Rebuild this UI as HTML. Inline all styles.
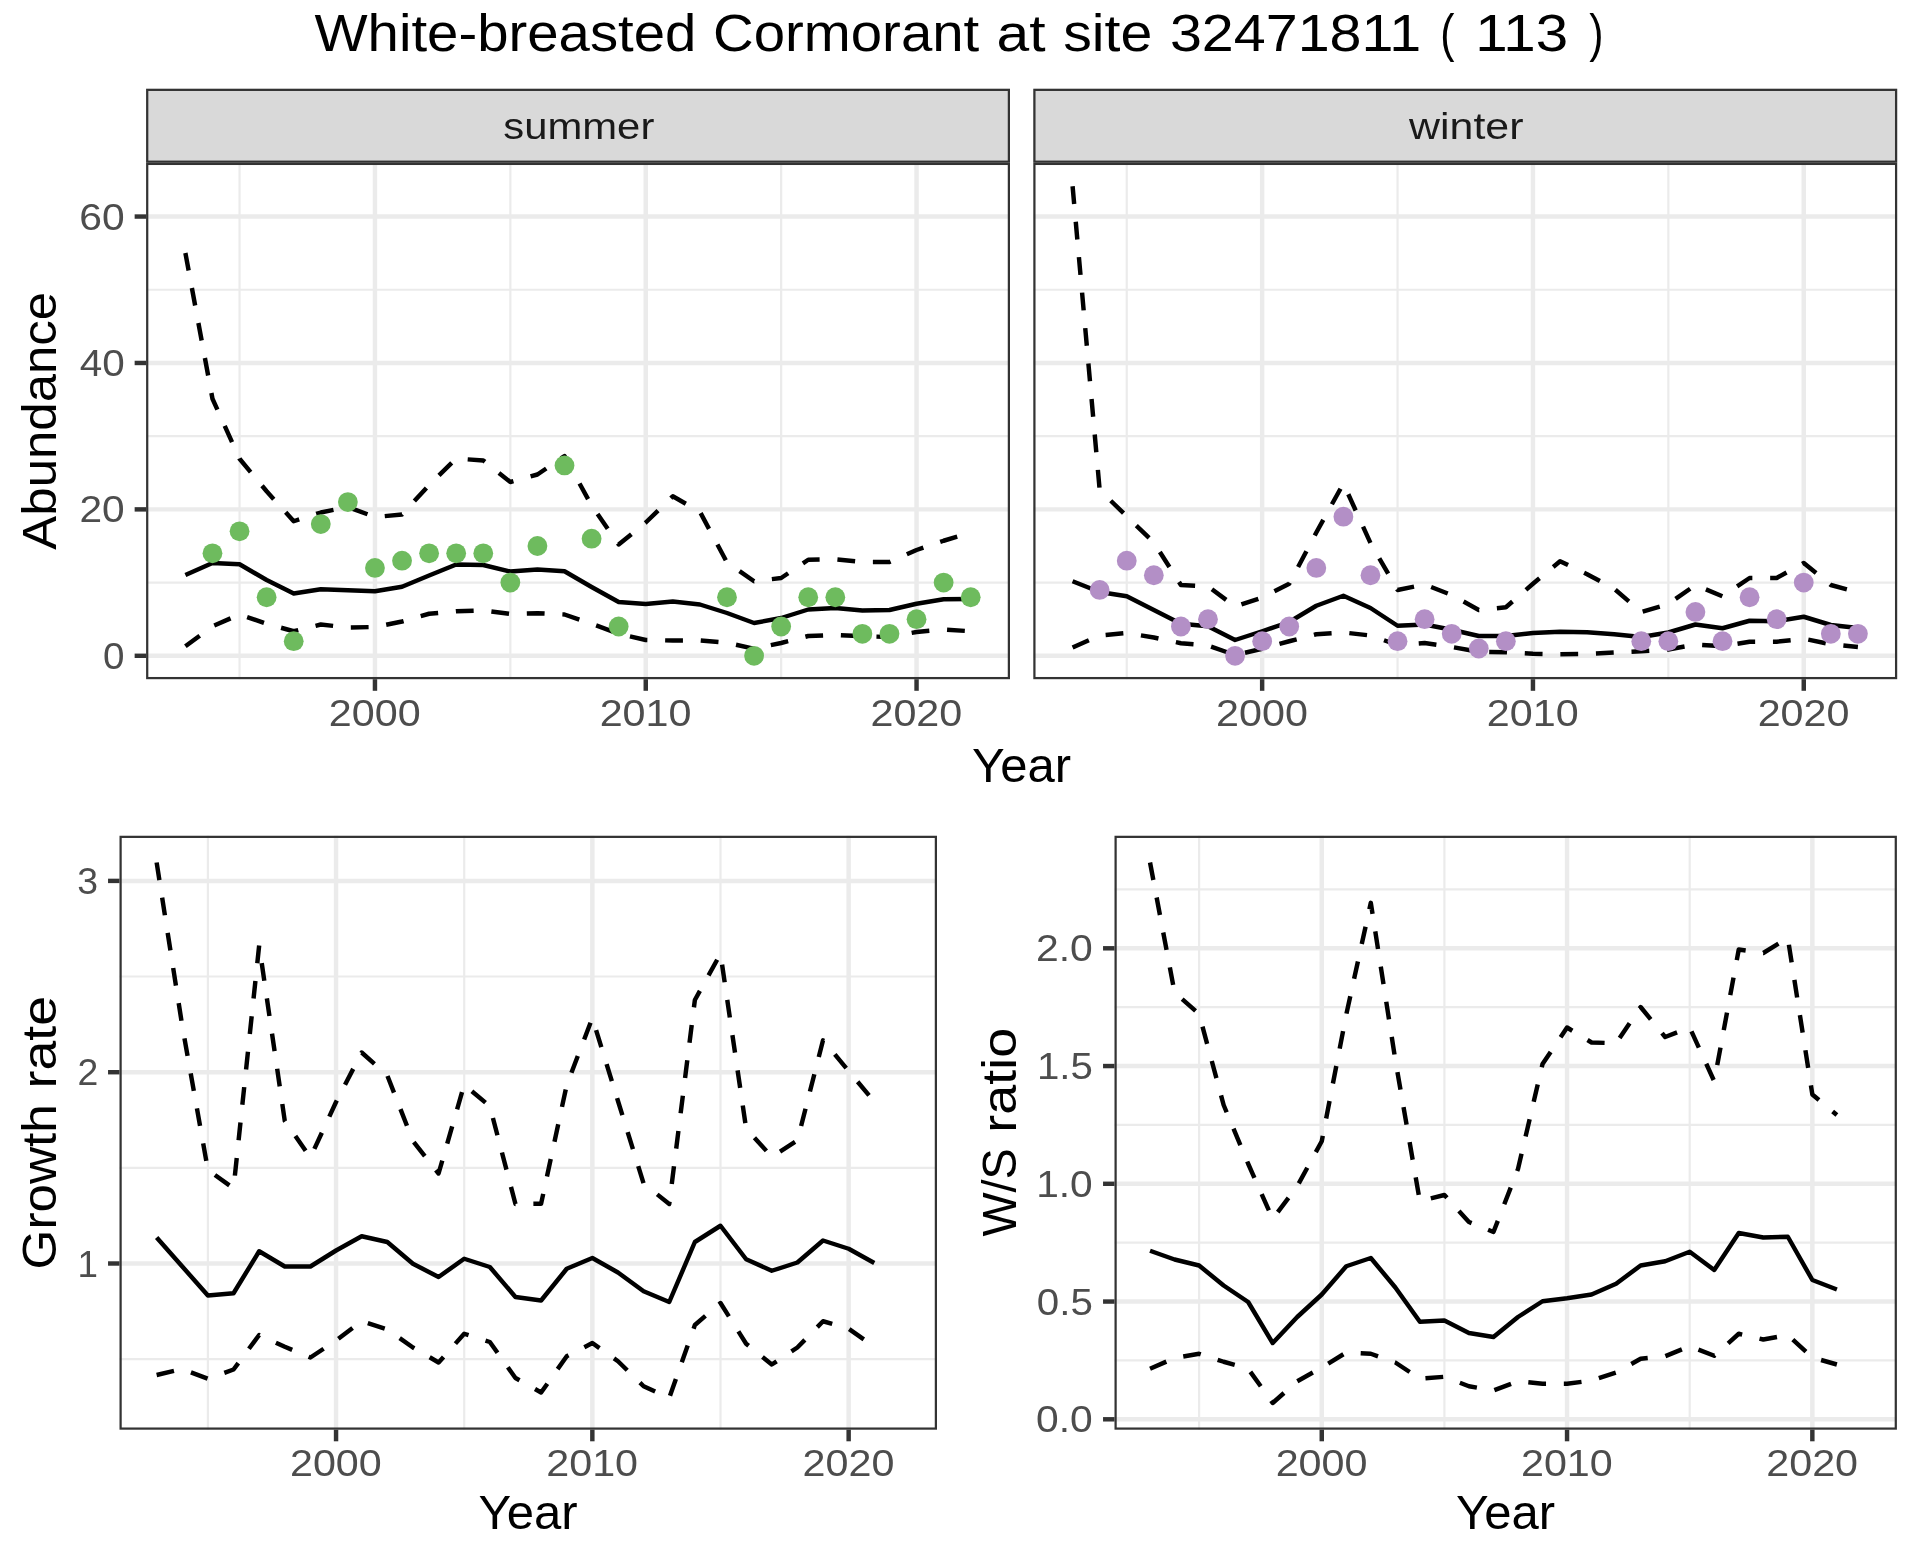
<!DOCTYPE html>
<html><head><meta charset="utf-8"><title>White-breasted Cormorant at site 32471811</title>
<style>html,body{margin:0;padding:0;background:#fff}svg{display:block;will-change:transform}text{font-family:"Liberation Sans",sans-serif}</style></head><body>
<svg width="1920" height="1560" viewBox="0 0 1920 1560">
<rect width="1920" height="1560" fill="#fff"/>
<rect x="146.10" y="162.80" width="863.90" height="516.40" fill="#fff"/>
<line x1="146.10" x2="1010.00" y1="582.59" y2="582.59" stroke="#EBEBEB" stroke-width="2.20"/>
<line x1="146.10" x2="1010.00" y1="436.18" y2="436.18" stroke="#EBEBEB" stroke-width="2.20"/>
<line x1="146.10" x2="1010.00" y1="289.76" y2="289.76" stroke="#EBEBEB" stroke-width="2.20"/>
<line x1="239.55" x2="239.55" y1="162.80" y2="679.20" stroke="#EBEBEB" stroke-width="2.20"/>
<line x1="510.35" x2="510.35" y1="162.80" y2="679.20" stroke="#EBEBEB" stroke-width="2.20"/>
<line x1="781.15" x2="781.15" y1="162.80" y2="679.20" stroke="#EBEBEB" stroke-width="2.20"/>
<line x1="146.10" x2="1010.00" y1="655.80" y2="655.80" stroke="#EBEBEB" stroke-width="4.45"/>
<line x1="146.10" x2="1010.00" y1="509.38" y2="509.38" stroke="#EBEBEB" stroke-width="4.45"/>
<line x1="146.10" x2="1010.00" y1="362.97" y2="362.97" stroke="#EBEBEB" stroke-width="4.45"/>
<line x1="146.10" x2="1010.00" y1="216.55" y2="216.55" stroke="#EBEBEB" stroke-width="4.45"/>
<line x1="374.95" x2="374.95" y1="162.80" y2="679.20" stroke="#EBEBEB" stroke-width="4.45"/>
<line x1="645.75" x2="645.75" y1="162.80" y2="679.20" stroke="#EBEBEB" stroke-width="4.45"/>
<line x1="916.55" x2="916.55" y1="162.80" y2="679.20" stroke="#EBEBEB" stroke-width="4.45"/>
<polyline points="185.39,575.00 212.47,563.00 239.55,564.25 266.63,580.00 293.71,593.50 320.79,589.25 347.87,590.25 374.95,591.25 402.03,586.75 429.11,575.50 456.19,564.50 483.27,565.00 510.35,571.50 537.43,569.50 564.51,571.25 591.59,587.00 618.67,602.00 645.75,604.00 672.83,601.50 699.91,604.50 726.99,613.00 754.07,623.00 781.15,618.00 808.23,609.50 835.31,608.00 862.39,610.50 889.47,610.00 916.55,603.75 943.63,599.25 970.71,599.00" fill="none" stroke="#000" stroke-width="4.45" stroke-linejoin="round" stroke-linecap="butt"/>
<polyline points="185.39,253.00 212.47,398.75 239.55,458.75 266.63,491.25 293.71,521.25 320.79,512.50 347.87,507.00 374.95,517.00 402.03,514.50 429.11,485.00 456.19,458.50 483.27,460.50 510.35,482.00 537.43,474.50 564.51,456.00 591.59,505.50 618.67,544.50 645.75,522.50 672.83,496.25 699.91,511.75 726.99,562.50 754.07,581.25 781.15,578.00 808.23,559.75 835.31,559.25 862.39,562.00 889.47,562.00 916.55,550.00 943.63,540.75 970.71,532.75" fill="none" stroke="#000" stroke-width="4.45" stroke-linejoin="round" stroke-linecap="butt" stroke-dasharray="17.8 17.8"/>
<polyline points="185.39,646.25 212.47,626.25 239.55,614.50 266.63,623.75 293.71,631.25 320.79,624.50 347.87,627.50 374.95,627.00 402.03,621.50 429.11,613.75 456.19,611.25 483.27,610.50 510.35,614.00 537.43,613.25 564.51,614.50 591.59,623.75 618.67,633.75 645.75,640.00 672.83,640.50 699.91,640.50 726.99,642.75 754.07,648.75 781.15,643.00 808.23,636.00 835.31,635.00 862.39,636.25 889.47,637.00 916.55,632.00 943.63,629.50 970.71,631.25" fill="none" stroke="#000" stroke-width="4.45" stroke-linejoin="round" stroke-linecap="butt" stroke-dasharray="17.8 17.8"/>
<circle cx="212.47" cy="553.31" r="9.9" fill="#6EBB5E"/>
<circle cx="239.55" cy="531.35" r="9.9" fill="#6EBB5E"/>
<circle cx="266.63" cy="597.23" r="9.9" fill="#6EBB5E"/>
<circle cx="293.71" cy="641.16" r="9.9" fill="#6EBB5E"/>
<circle cx="320.79" cy="524.03" r="9.9" fill="#6EBB5E"/>
<circle cx="347.87" cy="502.06" r="9.9" fill="#6EBB5E"/>
<circle cx="374.95" cy="567.95" r="9.9" fill="#6EBB5E"/>
<circle cx="402.03" cy="560.63" r="9.9" fill="#6EBB5E"/>
<circle cx="429.11" cy="553.31" r="9.9" fill="#6EBB5E"/>
<circle cx="456.19" cy="553.31" r="9.9" fill="#6EBB5E"/>
<circle cx="483.27" cy="553.31" r="9.9" fill="#6EBB5E"/>
<circle cx="510.35" cy="582.59" r="9.9" fill="#6EBB5E"/>
<circle cx="537.43" cy="545.99" r="9.9" fill="#6EBB5E"/>
<circle cx="564.51" cy="465.46" r="9.9" fill="#6EBB5E"/>
<circle cx="591.59" cy="538.67" r="9.9" fill="#6EBB5E"/>
<circle cx="618.67" cy="626.52" r="9.9" fill="#6EBB5E"/>
<circle cx="726.99" cy="597.23" r="9.9" fill="#6EBB5E"/>
<circle cx="754.07" cy="655.80" r="9.9" fill="#6EBB5E"/>
<circle cx="781.15" cy="626.52" r="9.9" fill="#6EBB5E"/>
<circle cx="808.23" cy="597.23" r="9.9" fill="#6EBB5E"/>
<circle cx="835.31" cy="597.23" r="9.9" fill="#6EBB5E"/>
<circle cx="862.39" cy="633.84" r="9.9" fill="#6EBB5E"/>
<circle cx="889.47" cy="633.84" r="9.9" fill="#6EBB5E"/>
<circle cx="916.55" cy="619.20" r="9.9" fill="#6EBB5E"/>
<circle cx="943.63" cy="582.59" r="9.9" fill="#6EBB5E"/>
<circle cx="970.71" cy="597.23" r="9.9" fill="#6EBB5E"/>
<rect x="147.21" y="163.91" width="861.67" height="514.18" fill="none" stroke="#333333" stroke-width="2.23"/>
<rect x="146.10" y="88.75" width="863.90" height="74.05" fill="#D9D9D9"/>
<rect x="147.21" y="89.86" width="861.67" height="71.83" fill="none" stroke="#333333" stroke-width="2.23"/>
<text transform="translate(503.23,138.60) scale(1.1200,1)" font-size="37.36" fill="#1A1A1A">summer</text>
<line x1="374.95" x2="374.95" y1="679.20" y2="690.80" stroke="#333333" stroke-width="4.45"/>
<line x1="645.75" x2="645.75" y1="679.20" y2="690.80" stroke="#333333" stroke-width="4.45"/>
<line x1="916.55" x2="916.55" y1="679.20" y2="690.80" stroke="#333333" stroke-width="4.45"/>
<text transform="translate(328.85,725.90) scale(1.1049,1)" font-size="37.36" fill="#4D4D4D">2000</text>
<text transform="translate(599.65,725.90) scale(1.1049,1)" font-size="37.36" fill="#4D4D4D">2010</text>
<text transform="translate(870.45,725.90) scale(1.1049,1)" font-size="37.36" fill="#4D4D4D">2020</text>
<rect x="1033.30" y="162.80" width="863.90" height="516.40" fill="#fff"/>
<line x1="1033.30" x2="1897.20" y1="582.59" y2="582.59" stroke="#EBEBEB" stroke-width="2.20"/>
<line x1="1033.30" x2="1897.20" y1="436.18" y2="436.18" stroke="#EBEBEB" stroke-width="2.20"/>
<line x1="1033.30" x2="1897.20" y1="289.76" y2="289.76" stroke="#EBEBEB" stroke-width="2.20"/>
<line x1="1126.75" x2="1126.75" y1="162.80" y2="679.20" stroke="#EBEBEB" stroke-width="2.20"/>
<line x1="1397.55" x2="1397.55" y1="162.80" y2="679.20" stroke="#EBEBEB" stroke-width="2.20"/>
<line x1="1668.35" x2="1668.35" y1="162.80" y2="679.20" stroke="#EBEBEB" stroke-width="2.20"/>
<line x1="1033.30" x2="1897.20" y1="655.80" y2="655.80" stroke="#EBEBEB" stroke-width="4.45"/>
<line x1="1033.30" x2="1897.20" y1="509.38" y2="509.38" stroke="#EBEBEB" stroke-width="4.45"/>
<line x1="1033.30" x2="1897.20" y1="362.97" y2="362.97" stroke="#EBEBEB" stroke-width="4.45"/>
<line x1="1033.30" x2="1897.20" y1="216.55" y2="216.55" stroke="#EBEBEB" stroke-width="4.45"/>
<line x1="1262.15" x2="1262.15" y1="162.80" y2="679.20" stroke="#EBEBEB" stroke-width="4.45"/>
<line x1="1532.95" x2="1532.95" y1="162.80" y2="679.20" stroke="#EBEBEB" stroke-width="4.45"/>
<line x1="1803.75" x2="1803.75" y1="162.80" y2="679.20" stroke="#EBEBEB" stroke-width="4.45"/>
<polyline points="1072.59,581.25 1099.67,592.00 1126.75,596.25 1153.83,610.00 1180.91,623.75 1207.99,626.25 1235.07,640.00 1262.15,631.25 1289.23,622.00 1316.31,605.75 1343.39,595.75 1370.47,608.00 1397.55,625.75 1424.63,624.50 1451.71,629.75 1478.79,636.00 1505.87,636.00 1532.95,633.00 1560.03,631.75 1587.11,632.25 1614.19,634.25 1641.27,637.00 1668.35,632.50 1695.43,624.50 1722.51,628.25 1749.59,620.75 1776.67,621.25 1803.75,616.75 1830.83,625.00 1857.91,628.00" fill="none" stroke="#000" stroke-width="4.45" stroke-linejoin="round" stroke-linecap="butt"/>
<polyline points="1072.59,186.25 1099.67,490.00 1126.75,516.25 1153.83,542.50 1180.91,585.00 1207.99,586.25 1235.07,606.50 1262.15,597.50 1289.23,583.75 1316.31,532.50 1343.39,483.50 1370.47,543.00 1397.55,590.00 1424.63,584.50 1451.71,595.00 1478.79,610.00 1505.87,607.25 1532.95,583.75 1560.03,561.25 1587.11,574.25 1614.19,588.75 1641.27,612.00 1668.35,604.00 1695.43,585.00 1722.51,596.25 1749.59,578.00 1776.67,578.00 1803.75,563.00 1830.83,585.00 1857.91,592.50" fill="none" stroke="#000" stroke-width="4.45" stroke-linejoin="round" stroke-linecap="butt" stroke-dasharray="17.8 17.8"/>
<polyline points="1072.59,647.50 1099.67,635.50 1126.75,633.00 1153.83,637.50 1180.91,643.25 1207.99,645.50 1235.07,655.00 1262.15,648.75 1289.23,641.25 1316.31,634.25 1343.39,632.50 1370.47,635.50 1397.55,645.00 1424.63,643.00 1451.71,647.00 1478.79,651.75 1505.87,652.25 1532.95,653.75 1560.03,654.25 1587.11,654.00 1614.19,652.50 1641.27,651.25 1668.35,649.50 1695.43,644.50 1722.51,646.25 1749.59,641.75 1776.67,641.75 1803.75,638.75 1830.83,644.25 1857.91,647.00" fill="none" stroke="#000" stroke-width="4.45" stroke-linejoin="round" stroke-linecap="butt" stroke-dasharray="17.8 17.8"/>
<circle cx="1099.67" cy="589.91" r="9.9" fill="#B38FC6"/>
<circle cx="1126.75" cy="560.63" r="9.9" fill="#B38FC6"/>
<circle cx="1153.83" cy="575.27" r="9.9" fill="#B38FC6"/>
<circle cx="1180.91" cy="626.52" r="9.9" fill="#B38FC6"/>
<circle cx="1207.99" cy="619.20" r="9.9" fill="#B38FC6"/>
<circle cx="1235.07" cy="655.80" r="9.9" fill="#B38FC6"/>
<circle cx="1262.15" cy="641.16" r="9.9" fill="#B38FC6"/>
<circle cx="1289.23" cy="626.52" r="9.9" fill="#B38FC6"/>
<circle cx="1316.31" cy="567.95" r="9.9" fill="#B38FC6"/>
<circle cx="1343.39" cy="516.70" r="9.9" fill="#B38FC6"/>
<circle cx="1370.47" cy="575.27" r="9.9" fill="#B38FC6"/>
<circle cx="1397.55" cy="641.16" r="9.9" fill="#B38FC6"/>
<circle cx="1424.63" cy="619.20" r="9.9" fill="#B38FC6"/>
<circle cx="1451.71" cy="633.84" r="9.9" fill="#B38FC6"/>
<circle cx="1478.79" cy="648.48" r="9.9" fill="#B38FC6"/>
<circle cx="1505.87" cy="641.16" r="9.9" fill="#B38FC6"/>
<circle cx="1641.27" cy="641.16" r="9.9" fill="#B38FC6"/>
<circle cx="1668.35" cy="641.16" r="9.9" fill="#B38FC6"/>
<circle cx="1695.43" cy="611.88" r="9.9" fill="#B38FC6"/>
<circle cx="1722.51" cy="641.16" r="9.9" fill="#B38FC6"/>
<circle cx="1749.59" cy="597.23" r="9.9" fill="#B38FC6"/>
<circle cx="1776.67" cy="619.20" r="9.9" fill="#B38FC6"/>
<circle cx="1803.75" cy="582.59" r="9.9" fill="#B38FC6"/>
<circle cx="1830.83" cy="633.84" r="9.9" fill="#B38FC6"/>
<circle cx="1857.91" cy="633.84" r="9.9" fill="#B38FC6"/>
<rect x="1034.41" y="163.91" width="861.68" height="514.18" fill="none" stroke="#333333" stroke-width="2.23"/>
<rect x="1033.30" y="88.75" width="863.90" height="74.05" fill="#D9D9D9"/>
<rect x="1034.41" y="89.86" width="861.68" height="71.83" fill="none" stroke="#333333" stroke-width="2.23"/>
<text transform="translate(1409.04,138.60) scale(1.1488,1)" font-size="37.36" fill="#1A1A1A">winter</text>
<line x1="1262.15" x2="1262.15" y1="679.20" y2="690.80" stroke="#333333" stroke-width="4.45"/>
<line x1="1532.95" x2="1532.95" y1="679.20" y2="690.80" stroke="#333333" stroke-width="4.45"/>
<line x1="1803.75" x2="1803.75" y1="679.20" y2="690.80" stroke="#333333" stroke-width="4.45"/>
<text transform="translate(1216.05,725.90) scale(1.1049,1)" font-size="37.36" fill="#4D4D4D">2000</text>
<text transform="translate(1486.85,725.90) scale(1.1049,1)" font-size="37.36" fill="#4D4D4D">2010</text>
<text transform="translate(1757.65,725.90) scale(1.1049,1)" font-size="37.36" fill="#4D4D4D">2020</text>
<line x1="134.64" x2="146.10" y1="655.80" y2="655.80" stroke="#333333" stroke-width="4.45"/>
<line x1="134.64" x2="146.10" y1="509.38" y2="509.38" stroke="#333333" stroke-width="4.45"/>
<line x1="134.64" x2="146.10" y1="362.97" y2="362.97" stroke="#333333" stroke-width="4.45"/>
<line x1="134.64" x2="146.10" y1="216.55" y2="216.55" stroke="#333333" stroke-width="4.45"/>
<text transform="translate(103.05,668.85) scale(1.0350,1)" font-size="37.36" fill="#4D4D4D">0</text>
<text transform="translate(79.43,522.43) scale(1.0882,1)" font-size="37.36" fill="#4D4D4D">20</text>
<text transform="translate(79.65,376.02) scale(1.0828,1)" font-size="37.36" fill="#4D4D4D">40</text>
<text transform="translate(79.30,229.60) scale(1.0915,1)" font-size="37.36" fill="#4D4D4D">60</text>
<text transform="translate(971.97,781.90) scale(1.0264,1)" font-size="47.80" fill="#000">Year</text>
<text transform="translate(56.00,549.65) rotate(-90) scale(1.0663,1)" font-size="47.80" fill="#000">Abundance</text>
<rect x="119.50" y="835.75" width="817.50" height="593.95" fill="#fff"/>
<line x1="119.50" x2="937.00" y1="1359.20" y2="1359.20" stroke="#EBEBEB" stroke-width="2.20"/>
<line x1="119.50" x2="937.00" y1="1167.85" y2="1167.85" stroke="#EBEBEB" stroke-width="2.20"/>
<line x1="119.50" x2="937.00" y1="976.50" y2="976.50" stroke="#EBEBEB" stroke-width="2.20"/>
<line x1="207.90" x2="207.90" y1="835.75" y2="1429.70" stroke="#EBEBEB" stroke-width="2.20"/>
<line x1="464.20" x2="464.20" y1="835.75" y2="1429.70" stroke="#EBEBEB" stroke-width="2.20"/>
<line x1="720.50" x2="720.50" y1="835.75" y2="1429.70" stroke="#EBEBEB" stroke-width="2.20"/>
<line x1="119.50" x2="937.00" y1="1263.50" y2="1263.50" stroke="#EBEBEB" stroke-width="4.45"/>
<line x1="119.50" x2="937.00" y1="1072.20" y2="1072.20" stroke="#EBEBEB" stroke-width="4.45"/>
<line x1="119.50" x2="937.00" y1="880.90" y2="880.90" stroke="#EBEBEB" stroke-width="4.45"/>
<line x1="336.05" x2="336.05" y1="835.75" y2="1429.70" stroke="#EBEBEB" stroke-width="4.45"/>
<line x1="592.35" x2="592.35" y1="835.75" y2="1429.70" stroke="#EBEBEB" stroke-width="4.45"/>
<line x1="848.65" x2="848.65" y1="835.75" y2="1429.70" stroke="#EBEBEB" stroke-width="4.45"/>
<polyline points="156.64,1237.50 182.27,1266.50 207.90,1295.50 233.53,1293.25 259.16,1251.25 284.79,1266.50 310.42,1266.50 336.05,1250.50 361.68,1236.25 387.31,1242.00 412.94,1263.75 438.57,1277.00 464.20,1258.75 489.83,1267.00 515.46,1297.00 541.09,1300.50 566.72,1268.75 592.35,1258.00 617.98,1272.50 643.61,1291.25 669.24,1302.00 694.87,1242.00 720.50,1225.75 746.13,1259.25 771.76,1270.75 797.39,1262.50 823.02,1240.50 848.65,1248.75 874.28,1263.00" fill="none" stroke="#000" stroke-width="4.45" stroke-linejoin="round" stroke-linecap="butt"/>
<polyline points="156.64,862.50 182.27,1026.00 207.90,1170.00 233.53,1188.30 259.16,945.50 284.79,1121.00 310.42,1157.50 336.05,1102.00 361.68,1052.50 387.31,1075.50 412.94,1141.00 438.57,1173.50 464.20,1084.75 489.83,1106.25 515.46,1204.00 541.09,1203.75 566.72,1085.00 592.35,1018.00 617.98,1101.00 643.61,1183.50 669.24,1204.00 694.87,1000.00 720.50,953.80 746.13,1128.50 771.76,1156.80 797.39,1140.50 823.02,1040.30 848.65,1071.00 874.28,1101.70" fill="none" stroke="#000" stroke-width="4.45" stroke-linejoin="round" stroke-linecap="butt" stroke-dasharray="17.8 17.8"/>
<polyline points="156.64,1375.00 182.27,1369.00 207.90,1378.75 233.53,1369.50 259.16,1335.00 284.79,1346.75 310.42,1357.50 336.05,1340.50 361.68,1321.25 387.31,1329.50 412.94,1347.50 438.57,1362.50 464.20,1333.75 489.83,1342.00 515.46,1378.00 541.09,1392.50 566.72,1356.25 592.35,1343.00 617.98,1361.25 643.61,1386.25 669.24,1398.00 694.87,1325.00 720.50,1303.00 746.13,1343.75 771.76,1364.50 797.39,1347.50 823.02,1321.25 848.65,1328.75 874.28,1346.75" fill="none" stroke="#000" stroke-width="4.45" stroke-linejoin="round" stroke-linecap="butt" stroke-dasharray="17.8 17.8"/>
<rect x="120.61" y="836.86" width="815.27" height="591.73" fill="none" stroke="#333333" stroke-width="2.23"/>
<line x1="336.05" x2="336.05" y1="1429.70" y2="1441.30" stroke="#333333" stroke-width="4.45"/>
<line x1="592.35" x2="592.35" y1="1429.70" y2="1441.30" stroke="#333333" stroke-width="4.45"/>
<line x1="848.65" x2="848.65" y1="1429.70" y2="1441.30" stroke="#333333" stroke-width="4.45"/>
<line x1="108.04" x2="119.50" y1="1263.50" y2="1263.50" stroke="#333333" stroke-width="4.45"/>
<line x1="108.04" x2="119.50" y1="1072.20" y2="1072.20" stroke="#333333" stroke-width="4.45"/>
<line x1="108.04" x2="119.50" y1="880.90" y2="880.90" stroke="#333333" stroke-width="4.45"/>
<text transform="translate(289.95,1475.50) scale(1.1049,1)" font-size="37.36" fill="#4D4D4D">2000</text>
<text transform="translate(546.25,1475.50) scale(1.1049,1)" font-size="37.36" fill="#4D4D4D">2010</text>
<text transform="translate(802.55,1475.50) scale(1.1049,1)" font-size="37.36" fill="#4D4D4D">2020</text>
<text transform="translate(77.59,1276.55) scale(0.9845,1)" font-size="37.36" fill="#4D4D4D">1</text>
<text transform="translate(77.42,1085.25) scale(1.0000,1)" font-size="37.36" fill="#4D4D4D">2</text>
<text transform="translate(77.17,893.95) scale(1.0000,1)" font-size="37.36" fill="#4D4D4D">3</text>
<text transform="translate(478.57,1528.75) scale(1.0264,1)" font-size="47.80" fill="#000">Year</text>
<text transform="translate(56.00,1269.44) rotate(-90) scale(1.0723,1)" font-size="47.80" fill="#000">Growth</text>
<text transform="translate(56.00,1088.43) rotate(-90) scale(1.1234,1)" font-size="47.80" fill="#000">rate</text>
<rect x="1114.50" y="835.75" width="782.40" height="593.95" fill="#fff"/>
<line x1="1114.50" x2="1896.90" y1="1360.42" y2="1360.42" stroke="#EBEBEB" stroke-width="2.20"/>
<line x1="1114.50" x2="1896.90" y1="1242.67" y2="1242.67" stroke="#EBEBEB" stroke-width="2.20"/>
<line x1="1114.50" x2="1896.90" y1="1124.92" y2="1124.92" stroke="#EBEBEB" stroke-width="2.20"/>
<line x1="1114.50" x2="1896.90" y1="1007.17" y2="1007.17" stroke="#EBEBEB" stroke-width="2.20"/>
<line x1="1114.50" x2="1896.90" y1="889.42" y2="889.42" stroke="#EBEBEB" stroke-width="2.20"/>
<line x1="1199.10" x2="1199.10" y1="835.75" y2="1429.70" stroke="#EBEBEB" stroke-width="2.20"/>
<line x1="1444.40" x2="1444.40" y1="835.75" y2="1429.70" stroke="#EBEBEB" stroke-width="2.20"/>
<line x1="1689.70" x2="1689.70" y1="835.75" y2="1429.70" stroke="#EBEBEB" stroke-width="2.20"/>
<line x1="1114.50" x2="1896.90" y1="1419.30" y2="1419.30" stroke="#EBEBEB" stroke-width="4.45"/>
<line x1="1114.50" x2="1896.90" y1="1301.55" y2="1301.55" stroke="#EBEBEB" stroke-width="4.45"/>
<line x1="1114.50" x2="1896.90" y1="1183.80" y2="1183.80" stroke="#EBEBEB" stroke-width="4.45"/>
<line x1="1114.50" x2="1896.90" y1="1066.05" y2="1066.05" stroke="#EBEBEB" stroke-width="4.45"/>
<line x1="1114.50" x2="1896.90" y1="948.30" y2="948.30" stroke="#EBEBEB" stroke-width="4.45"/>
<line x1="1321.75" x2="1321.75" y1="835.75" y2="1429.70" stroke="#EBEBEB" stroke-width="4.45"/>
<line x1="1567.05" x2="1567.05" y1="835.75" y2="1429.70" stroke="#EBEBEB" stroke-width="4.45"/>
<line x1="1812.35" x2="1812.35" y1="835.75" y2="1429.70" stroke="#EBEBEB" stroke-width="4.45"/>
<polyline points="1150.04,1250.75 1174.57,1259.50 1199.10,1265.50 1223.63,1285.50 1248.16,1302.00 1272.69,1343.00 1297.22,1317.00 1321.75,1294.50 1346.28,1266.25 1370.81,1258.00 1395.34,1287.50 1419.87,1321.75 1444.40,1320.50 1468.93,1333.00 1493.46,1337.00 1517.99,1317.00 1542.52,1301.25 1567.05,1298.25 1591.58,1294.50 1616.11,1283.75 1640.64,1265.50 1665.17,1261.25 1689.70,1251.75 1714.23,1270.00 1738.76,1233.00 1763.29,1237.50 1787.82,1236.75 1812.35,1280.00 1836.88,1289.50" fill="none" stroke="#000" stroke-width="4.45" stroke-linejoin="round" stroke-linecap="butt"/>
<polyline points="1150.04,862.50 1174.57,992.50 1199.10,1014.00 1223.63,1105.00 1248.16,1163.75 1272.69,1218.85 1297.22,1186.25 1321.75,1141.25 1346.28,1014.50 1370.81,902.80 1395.34,1060.00 1419.87,1201.25 1444.40,1195.00 1468.93,1222.00 1493.46,1232.00 1517.99,1169.00 1542.52,1064.00 1567.05,1027.50 1591.58,1042.50 1616.11,1043.25 1640.64,1007.00 1665.17,1037.00 1689.70,1027.50 1714.23,1081.25 1738.76,949.50 1763.29,953.00 1787.82,938.00 1812.35,1094.50 1836.88,1115.00" fill="none" stroke="#000" stroke-width="4.45" stroke-linejoin="round" stroke-linecap="butt" stroke-dasharray="17.8 17.8"/>
<polyline points="1150.04,1368.75 1174.57,1358.00 1199.10,1353.75 1223.63,1361.75 1248.16,1368.75 1272.69,1403.00 1297.22,1381.25 1321.75,1367.50 1346.28,1352.50 1370.81,1353.75 1395.34,1362.50 1419.87,1378.75 1444.40,1376.75 1468.93,1386.25 1493.46,1390.50 1517.99,1381.25 1542.52,1383.75 1567.05,1383.75 1591.58,1380.50 1616.11,1372.50 1640.64,1358.75 1665.17,1356.25 1689.70,1346.25 1714.23,1355.75 1738.76,1333.75 1763.29,1339.50 1787.82,1335.00 1812.35,1357.50 1836.88,1364.50" fill="none" stroke="#000" stroke-width="4.45" stroke-linejoin="round" stroke-linecap="butt" stroke-dasharray="17.8 17.8"/>
<rect x="1115.61" y="836.86" width="780.18" height="591.73" fill="none" stroke="#333333" stroke-width="2.23"/>
<line x1="1321.75" x2="1321.75" y1="1429.70" y2="1441.30" stroke="#333333" stroke-width="4.45"/>
<line x1="1567.05" x2="1567.05" y1="1429.70" y2="1441.30" stroke="#333333" stroke-width="4.45"/>
<line x1="1812.35" x2="1812.35" y1="1429.70" y2="1441.30" stroke="#333333" stroke-width="4.45"/>
<line x1="1103.04" x2="1114.50" y1="1419.30" y2="1419.30" stroke="#333333" stroke-width="4.45"/>
<line x1="1103.04" x2="1114.50" y1="1301.55" y2="1301.55" stroke="#333333" stroke-width="4.45"/>
<line x1="1103.04" x2="1114.50" y1="1183.80" y2="1183.80" stroke="#333333" stroke-width="4.45"/>
<line x1="1103.04" x2="1114.50" y1="1066.05" y2="1066.05" stroke="#333333" stroke-width="4.45"/>
<line x1="1103.04" x2="1114.50" y1="948.30" y2="948.30" stroke="#333333" stroke-width="4.45"/>
<text transform="translate(1275.65,1475.50) scale(1.1049,1)" font-size="37.36" fill="#4D4D4D">2000</text>
<text transform="translate(1520.95,1475.50) scale(1.1049,1)" font-size="37.36" fill="#4D4D4D">2010</text>
<text transform="translate(1766.25,1475.50) scale(1.1049,1)" font-size="37.36" fill="#4D4D4D">2020</text>
<text transform="translate(1036.06,1432.35) scale(1.0918,1)" font-size="37.36" fill="#4D4D4D">0.0</text>
<text transform="translate(1036.83,1314.60) scale(1.0793,1)" font-size="37.36" fill="#4D4D4D">0.5</text>
<text transform="translate(1036.19,1196.85) scale(1.0892,1)" font-size="37.36" fill="#4D4D4D">1.0</text>
<text transform="translate(1036.98,1079.10) scale(1.0763,1)" font-size="37.36" fill="#4D4D4D">1.5</text>
<text transform="translate(1035.90,961.35) scale(1.0951,1)" font-size="37.36" fill="#4D4D4D">2.0</text>
<text transform="translate(1456.02,1528.75) scale(1.0264,1)" font-size="47.80" fill="#000">Year</text>
<text transform="translate(1016.00,1236.53) rotate(-90) scale(0.9786,1)" font-size="47.80" fill="#000">W/S</text>
<text transform="translate(1016.00,1132.76) rotate(-90) scale(1.1282,1)" font-size="47.80" fill="#000">ratio</text>
<text transform="translate(314.44,50.60) scale(1.0885,1)" font-size="51.75" fill="#000">White-breasted</text>
<text transform="translate(713.05,50.60) scale(1.0890,1)" font-size="51.75" fill="#000">Cormorant</text>
<text transform="translate(996.47,50.60) scale(1.1358,1)" font-size="51.75" fill="#000">at</text>
<text transform="translate(1063.25,50.60) scale(1.1059,1)" font-size="51.75" fill="#000">site</text>
<text transform="translate(1169.89,50.60) scale(1.1099,1)" font-size="51.75" fill="#000">32471811</text>
<text transform="translate(1440.32,50.60) scale(0.8257,1)" font-size="51.75" fill="#000">(</text>
<text transform="translate(1475.15,50.60) scale(1.1262,1)" font-size="51.75" fill="#000">113</text>
<text transform="translate(1589.17,50.60) scale(0.8257,1)" font-size="51.75" fill="#000">)</text>
</svg></body></html>
